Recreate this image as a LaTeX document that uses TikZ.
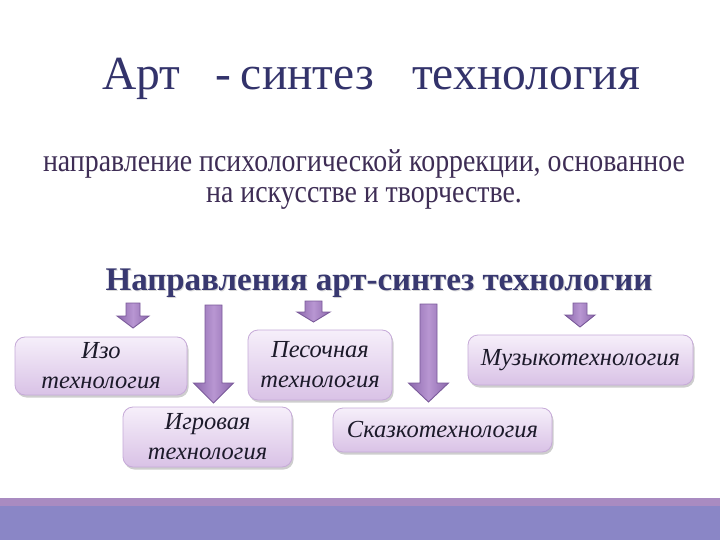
\documentclass[tikz,border=0pt]{standalone}
\usepackage{fontspec}
\setmainfont{Liberation Serif}
\usetikzlibrary{shadows}
\definecolor{titlec}{HTML}{33336B}
\definecolor{subc}{HTML}{3E2D55}
\definecolor{headc}{HTML}{383870}
\definecolor{boxtop}{HTML}{F6EFFA}
\definecolor{boxbot}{HTML}{D9C2E6}
\definecolor{boxedge}{HTML}{C6AAD8}
\definecolor{boxtext}{HTML}{1C1A2A}
\definecolor{arrdark}{HTML}{8C68AC}
\definecolor{arrlight}{HTML}{B896D2}
\definecolor{arredge}{HTML}{7A5A9A}
\definecolor{bandpink}{HTML}{A98BC1}
\definecolor{bandblue}{HTML}{8A86C6}
\tikzset{
  titletext/.style={text=titlec, font=\fontsize{47.5}{56}\selectfont, anchor=base, inner sep=0pt},
  subtext/.style={text=subc, anchor=base, inner sep=0pt},
  headtext/.style={font=\bfseries\fontsize{33}{38}\selectfont, anchor=base, inner sep=0pt},
  techbox/.style={draw=boxedge, line width=0.8pt, rounded corners=10pt, top color=boxtop, bottom color=boxbot,
    drop shadow={shadow xshift=1.5pt, shadow yshift=-2.5pt, opacity=0.35, fill=black!55},
    text=boxtext, align=center, font=\itshape\fontsize{24.5}{30}\selectfont, inner sep=0pt},
  blockarr/.style={draw=arredge, line width=0.9pt, left color=arrdark, right color=arrdark, middle color=arrlight}
}
\newcommand\blkarrow[6]{%
  \path[blockarr] (#1-#5,#2) -- (#1+#5,#2) -- (#1+#5,#3) -- (#1+#6,#3) -- (#1,#4) -- (#1-#6,#3) -- (#1-#5,#3) -- cycle;}
\begin{document}
\begin{tikzpicture}[x=1pt,y=-1pt]
\useasboundingbox (0,0) rectangle (720,540);
\fill[white] (0,0) rectangle (720,540);
\fill[bandpink] (0,498) rectangle (720,506);
\fill[bandblue] (0,506) rectangle (720,540);
% title
\node[titletext] (t1) at (141.5,90) {Арт};
\node[titletext] (t2) at (223.5,90) {-};
\node[titletext] (t3) at (307.5,90) {синтез};
\node[titletext] (t4) at (526,90) {технология};
% subtitle
\node[subtext] (s1) at (364,172) {\scalebox{0.87}[1]{\fontsize{32}{36}\selectfont направление психологической коррекции, основанное}};
\node[subtext] (s2) at (364,203) {\scalebox{0.87}[1]{\fontsize{32}{36}\selectfont на искусстве и творчестве.}};
% heading
\node[headtext, text=black!15] (hs) at (380,291) {Направления арт-синтез технологии};
\node[headtext, text=headc] (h) at (379,290) {Направления арт-синтез технологии};
% arrows
\blkarrow{133}{303}{316}{328}{7}{16}
\blkarrow{213.5}{305}{383}{403}{8.5}{20}
\blkarrow{313.5}{301}{312}{322}{8.5}{16.5}
\blkarrow{428.5}{304}{383}{402}{8.5}{20}
\blkarrow{580}{303}{315}{327}{7}{15}
% boxes
\node[techbox, minimum width=172pt, minimum height=58pt] (b1) at (101,366) {Изо\\технология};
\node[techbox, minimum width=169pt, minimum height=60pt] (b2) at (207.5,437) {Игровая\\технология};
\node[techbox, minimum width=144pt, minimum height=70pt] (b3) at (320,365) {Песочная\\технология};
\node[techbox, minimum width=219pt, minimum height=44pt] (b4) at (442.5,430) {Сказкотехнология};
\node[techbox, minimum width=225pt, minimum height=50pt] (b5) at (580.5,360) {Музыкотехнология};
\end{tikzpicture}
\end{document}
